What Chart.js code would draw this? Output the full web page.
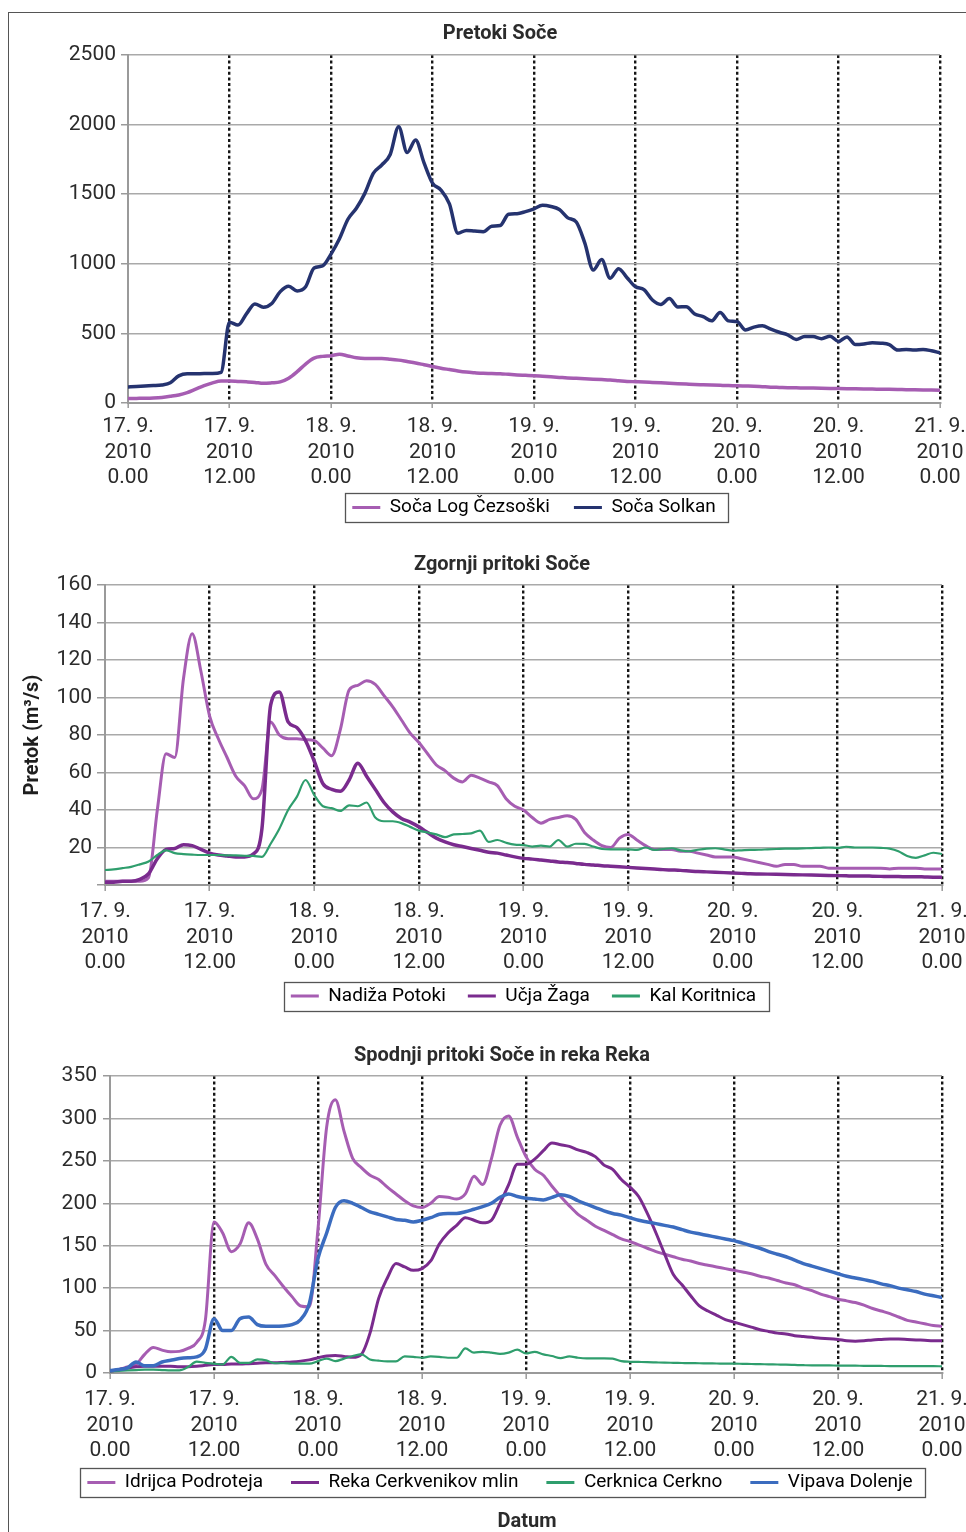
<!DOCTYPE html>
<html>
<head>
<meta charset="utf-8">
<title>Pretoki Soče in pritokov</title>
<script src="https://cdn.jsdelivr.net/npm/chart.js@4.4.1/dist/chart.umd.min.js"></script>
<style>
  html, body { margin: 0; padding: 0; background: #fff; overflow: hidden; }
  body { width: 966px; height: 1532px; position: relative; }
  .frame { position: absolute; left: 8px; top: 12px; width: 970px; height: 1530px;
           border-left: 1.5px solid #555; border-top: 1.5px solid #555; }
  canvas { position: absolute; left: 0; }
</style>
</head>
<body>
<div class="frame"></div>
<canvas id="soca" width="966" height="540" style="top:12px"></canvas>
<canvas id="zgornji" width="966" height="490" style="top:540px"></canvas>
<canvas id="spodnji" width="966" height="502" style="top:1030px"></canvas>
<script>
// Hourly discharge (m3/s), 17. 9. 2010 0.00 – 21. 9. 2010 0.00 (index = hour)
const TICK_DATES = ['17. 9.', '17. 9.', '18. 9.', '18. 9.', '19. 9.', '19. 9.', '20. 9.', '20. 9.', '21. 9.'];
const TICK_YEARS = ['2010', '2010', '2010', '2010', '2010', '2010', '2010', '2010', '2010'];
const TICK_TIMES = ['0.00', '12.00', '0.00', '12.00', '0.00', '12.00', '0.00', '12.00', '0.00'];

// Pretoki Soče
const SOCA_LOG = [32,33,34,36,40,48,58,75,100,125,
  145,158,158,155,152,148,141,145,152,178,
  225,280,322,335,340,350,338,325,320,320,
  320,315,308,298,288,275,262,250,240,230,
  222,217,213,212,210,206,202,199,196,192,
  188,184,180,177,174,171,168,165,160,155,
  153,151,148,145,142,139,136,133,131,129,
  127,125,124,122,120,117,114,112,110,109,
  108,107,106,105,104,103,102,101,100,99,
  98,97,96,95,94,93,92];
const SOCA_SOLKAN = [115,118,122,125,130,145,195,210,210,212,
  212,220,580,560,640,712,688,715,800,838,
  805,835,970,985,1070,1180,1320,1399,1506,1650,
  1710,1785,1985,1800,1890,1725,1580,1530,1430,1220,
  1240,1235,1231,1270,1275,1356,1360,1375,1395,1420,
  1412,1390,1330,1300,1150,955,1030,896,965,900,
  835,815,740,708,750,690,692,640,620,590,
  650,590,585,525,545,555,530,508,490,456,
  478,477,462,480,442,475,420,424,433,430,
  420,380,384,380,385,375,360];

// Zgornji pritoki Soče
const NADIZA_POTOKI = [2,2,2,2,2,4,40,70,68,110,
  134,114,90,78,68,58,53,46,51,87,
  80,78,78,77.5,77,73,69,83,104,106.5,
  109,107,101,95,88,81,76,70,64,61,
  57,55,58.5,57,55,53,46,42,40,36,
  33,35,36,37,35,28,24,21,20,25,
  27,24,21,19,19,19,18,18,17,16,
  15,15,15,14,13,12,11,10,11,11,
  10,10,10,9,9,9,9,9,9,9,
  8.5,9,9,9,8.5,8.5,8.5];
const UCJA_ZAGA = [1.5,1.5,2,2,3,6,14,19,19.5,21.5,
  21,19,17,16,15.5,15,15,16.5,30,96,
  103,87,84,77,66,54,51,50,56,65,
  58,51,44,39,35.5,33.5,31,28,25,23,
  21.5,20.5,19.5,18.5,17.5,17,16,15,14.2,13.8,
  13.3,12.8,12.3,12,11.5,11,10.7,10.3,10,9.7,
  9.4,9.1,8.8,8.5,8.2,8,7.8,7.5,7.2,7,
  6.8,6.6,6.4,6.2,6,5.9,5.8,5.7,5.6,5.5,
  5.4,5.3,5.2,5.1,5,4.9,4.8,4.8,4.7,4.6,
  4.5,4.5,4.4,4.4,4.3,4.2,4.2];
const KAL_KORITNICA = [8,8.3,9,9.7,11,12.5,16,18.5,17,16.5,
  16.2,16,16,16,15.8,15.8,15.6,15.5,15,22,
  30,40,47,56,48,42,41,39.5,42.5,42,
  44,36,34,34,33,31,29,28,27,25.5,
  27,27.2,27.5,29,23,24,22.5,21.5,21.3,20.5,
  21,20.5,24,20.5,22,21.9,20.5,19.2,19,19,
  19,18.7,20,18.7,19.2,19.6,18.5,18,18.8,19.4,
  19.6,19,18.3,18.5,18.7,18.8,19,19.2,19.4,19.4,
  19.5,19.7,19.8,20,19.8,20.4,20,20,20,19.8,
  19.4,18,15.5,14.5,15.8,17.2,16.5];

// Spodnji pritoki Soče in reka Reka
const IDRIJCA_PODROTEJA = [2,4,7,10,22,30,27,25,25.5,29,
  36,62,178,165,143,152,177,158,128,115,
  102,90,79,78,170,290,322,285,253,242,
  233,228,219,211,203,197,195,200,208,207,
  205,211,232,222,252,292,303,278,255,240,
  233,220,208,197,187,180,173,168,163,158,
  155,151,147,143,140,137,134,132,129,127,
  125,123,121,119,117,114,112,109,106,104,
  100,97,93,90,87,85,83,80,76,73,
  70,66,62,60,58,56,55];
const REKA_CERKVENIKOV_MLIN = [2,4,6,7.5,8,8,8,8,7.5,7.5,
  8,9,10,10,10.5,10.5,11,11.5,12,12,
  12.5,13,14,15.5,18,20,20.5,19.5,18.5,22,
  47,88,112,129,125,121,123,132,152,165,
  174,183,180,177,180,200,222,246,246,252,
  262,271,269,267,263,260,255,245,240,228,
  219,208,188,165,140,116,104,91,79,73,
  68,63,60,57,54,51,49,47,46,44,
  43,42,41,40.5,39.5,38,37.5,38,39,39.5,
  40,40,39.5,39,38.5,38,38];
const CERKNICA_CERKNO = [2,2.5,3,3.5,4,4,3.5,3,3,7,
  13.5,12,11,10,19,12,12,16,15,11.5,
  11.5,11,11,11,14,17,14,17,20,22,
  16,14.5,13.7,13.7,19.5,19,18,19.5,19,18,
  18,29,24,25,24,22.5,24,27.5,23,25,
  22,20,17.5,19.5,18,17.3,17.3,17.3,17,14,
  13.2,13,12.8,12.5,12.2,12,11.8,11.6,11.5,11.3,
  11.2,11,11,10.8,10.6,10.4,10.2,10,9.8,9.5,
  9.2,9,9,8.9,8.8,8.7,8.6,8.5,8.4,8.3,
  8.2,8.2,8.1,8.1,8,8,7.9];
const VIPAVA_DOLENJE = [3,4,6,13,8.5,8.5,13,15,17,18,
  19,28,64,50,50,64,66,57,55,55,
  55.5,57,63,82,135,165,195,203,200,195,
  190,187,184,181,180,178,180,183,187,188,
  188,190,193,196,200,207,211,208,206,205,
  204,207,210,208,203,199,195,191,188,186,
  183,180,178,176,174,172,169,166,164,162,
  160,158,156,153,150,147,143,140,137,133,
  129,126,123,120,117,114,112,110,108,105,
  103,100,98,96,93,91,89];

// ---- styling ----
const FONT = 'Roboto, "Noto Sans", sans-serif';
const TEXT = '#2b2b2b';
const AXIS = '#9a9a9a';
const GRID = '#a9a9a9';
const C_LIGHT = '#a65db2';
const C_NAVY = '#25336f';
const C_DARK = '#7a2b8e';
const C_GREEN = '#2f9e6d';
const C_BLUE = '#3b6cbf';

// Free-standing headings drawn on the canvas
const captionPlugin = {
  id: 'captions',
  afterDraw(chart, args, opts) {
    const ctx = chart.ctx;
    (opts.items || []).forEach(it => {
      ctx.save();
      ctx.font = it.font;
      ctx.fillStyle = TEXT;
      ctx.textAlign = 'center';
      ctx.textBaseline = 'middle';
      ctx.fillText(it.text, it.x, it.y);
      ctx.restore();
    });
  }
};

// Moves the legend block up or down after the layout pass
const legendShiftPlugin = {
  id: 'legendShift',
  afterLayout(chart, args, opts) {
    const lg = chart.legend;
    if (!lg || !opts.dy) return;
    lg.top += opts.dy;
    lg.bottom += opts.dy;
  }
};

// Thin frame around the legend items
const legendFramePlugin = {
  id: 'legendFrame',
  afterDraw(chart) {
    const lg = chart.legend;
    if (!lg || !lg.legendHitBoxes || !lg.legendHitBoxes.length) return;
    const hb = lg.legendHitBoxes;
    const l = Math.min(...hb.map(b => b.left)) - 7;
    const r = Math.max(...hb.map(b => b.left + b.width)) + 13;
    const t = Math.min(...hb.map(b => b.top)) - 5;
    const bt = Math.max(...hb.map(b => b.top + b.height)) + 5;
    const ctx = chart.ctx;
    ctx.save();
    ctx.strokeStyle = '#555';
    ctx.lineWidth = 1.3;
    ctx.strokeRect(Math.round(l) + 0.5, Math.round(t) + 0.5, Math.round(r - l), Math.round(bt - t));
    ctx.restore();
  }
};

function timeLabel(v) {
  if (v % 12 !== 0) return '';
  const k = v / 12;
  return [TICK_DATES[k], TICK_YEARS[k], TICK_TIMES[k]];
}

function buildChart(id, cfg) {
  const n = cfg.series.length;
  const datasets = cfg.series.map((s, i) => ({
    label: s.label,
    data: s.values.map((v, h) => ({ x: h, y: v })),
    borderColor: s.color,
    backgroundColor: s.color,
    borderWidth: s.width,
    pointRadius: 0,
    fill: false,
    cubicInterpolationMode: 'monotone',
    borderJoinStyle: 'round',
    borderCapStyle: 'round',
    order: n - 1 - i
  }));

  return new Chart(document.getElementById(id), {
    type: 'line',
    data: { datasets },
    plugins: [captionPlugin, legendShiftPlugin, legendFramePlugin],
    options: {
      responsive: false,
      devicePixelRatio: 1,
      animation: false,
      events: [],
      layout: { padding: cfg.padding },
      scales: {
        x: {
          type: 'linear',
          min: 0,
          max: 96,
          afterFit(s) {
            s.height = cfg.xHeight;
            // end labels may run to the canvas edge
            s.paddingLeft = 0;
            s.paddingRight = 0;
          },
          ticks: {
            stepSize: 12,
            autoSkip: false,
            maxRotation: 0,
            minRotation: 0,
            padding: cfg.xTickPad,
            color: TEXT,
            font: { family: FONT, size: 21, lineHeight: 1.22 },
            callback: v => timeLabel(v)
          },
          grid: {
            color: c => (c.tick && c.tick.value === 0) ? 'rgba(0,0,0,0)' : '#151515',
            lineWidth: 2.4,
            drawTicks: true,
            tickLength: cfg.xTickLen,
            tickColor: AXIS,
            tickWidth: 1.5
          },
          border: { display: true, color: AXIS, width: 2, dash: [3, 2.6] }
        },
        y: {
          min: 0,
          max: cfg.yMax,
          afterFit(s) { s.width = cfg.yWidth; },
          ticks: {
            stepSize: cfg.yStep,
            padding: cfg.yTickPad,
            color: TEXT,
            font: { family: FONT, size: 21 },
            callback: v => (cfg.hideZero && v === 0) ? '' : String(v)
          },
          grid: {
            color: GRID,
            lineWidth: 1.5,
            drawTicks: true,
            tickLength: cfg.yTickLen,
            tickColor: AXIS,
            tickWidth: 1.5
          },
          border: { display: true, color: AXIS, width: 2 },
          title: cfg.yTitle ? {
            display: true,
            text: cfg.yTitle,
            color: '#1e1e1e',
            font: { family: FONT, size: 20, weight: 'bold' },
            padding: { top: 5, bottom: 0 }
          } : { display: false }
        }
      },
      plugins: {
        tooltip: { enabled: false },
        title: { display: false },
        captions: { items: cfg.captions },
        legendShift: { dy: cfg.legendShift },
        legend: {
          display: true,
          position: 'bottom',
          fullSize: cfg.legendFull,
          labels: {
            boxWidth: 28,
            boxHeight: 3,
            padding: cfg.legendGap,
            color: TEXT,
            font: { family: FONT, size: 19 },
            generateLabels: chart => chart.data.datasets.map((ds, i) => ({
              text: ds.label,
              fillStyle: ds.borderColor,
              strokeStyle: ds.borderColor,
              lineWidth: 0,
              hidden: false,
              datasetIndex: i
            }))
          }
        }
      }
    }
  });
}

const TITLE_FONT = 'bold 20px ' + FONT;

buildChart('soca', {
  series: [
    { label: 'Soča Log Čezsoški', values: SOCA_LOG, color: C_LIGHT, width: 3.5 },
    { label: 'Soča Solkan', values: SOCA_SOLKAN, color: C_NAVY, width: 3.5 }
  ],
  yMax: 2500, yStep: 500, hideZero: false,
  padding: { left: 0, right: 26, top: 43, bottom: 9 },
  yWidth: 128, xHeight: 87, legendGap: 24, legendShift: -16,
  xTickLen: 5, xTickPad: 6, yTickLen: 7, yTickPad: 5,
  legendFull: false,
  captions: [{ text: 'Pretoki Soče', x: 500, y: 22, font: TITLE_FONT }]
});

buildChart('zgornji', {
  series: [
    { label: 'Nadiža Potoki', values: NADIZA_POTOKI, color: C_LIGHT, width: 3 },
    { label: 'Učja Žaga', values: UCJA_ZAGA, color: C_DARK, width: 3.5 },
    { label: 'Kal Koritnica', values: KAL_KORITNICA, color: C_GREEN, width: 2.2 }
  ],
  yMax: 160, yStep: 20, hideZero: true,
  padding: { left: 16, right: 24, top: 45, bottom: 5 },
  yWidth: 89, xHeight: 89, legendGap: 22, legendShift: -9.5,
  xTickLen: 6, xTickPad: 8, yTickLen: 8, yTickPad: 5,
  legendFull: false,
  yTitle: 'Pretok (m³/s)',
  captions: [{ text: 'Zgornji pritoki Soče', x: 502, y: 25, font: TITLE_FONT }]
});

buildChart('spodnji', {
  series: [
    { label: 'Idrijca Podroteja', values: IDRIJCA_PODROTEJA, color: C_LIGHT, width: 3 },
    { label: 'Reka Cerkvenikov mlin', values: REKA_CERKVENIKOV_MLIN, color: C_DARK, width: 3 },
    { label: 'Cerknica Cerkno', values: CERKNICA_CERKNO, color: C_GREEN, width: 2.2 },
    { label: 'Vipava Dolenje', values: VIPAVA_DOLENJE, color: C_BLUE, width: 3.5 }
  ],
  yMax: 350, yStep: 50, hideZero: false,
  padding: { left: 58, right: 24, top: 46, bottom: 13 },
  yWidth: 52, xHeight: 89, legendGap: 28, legendShift: -17,
  xTickLen: 6, xTickPad: 8, yTickLen: 7, yTickPad: 6,
  legendFull: true,
  captions: [
    { text: 'Spodnji pritoki Soče in reka Reka', x: 502, y: 26, font: TITLE_FONT },
    { text: 'Datum', x: 527, y: 492, font: TITLE_FONT }
  ]
});
</script>
</body>
</html>
